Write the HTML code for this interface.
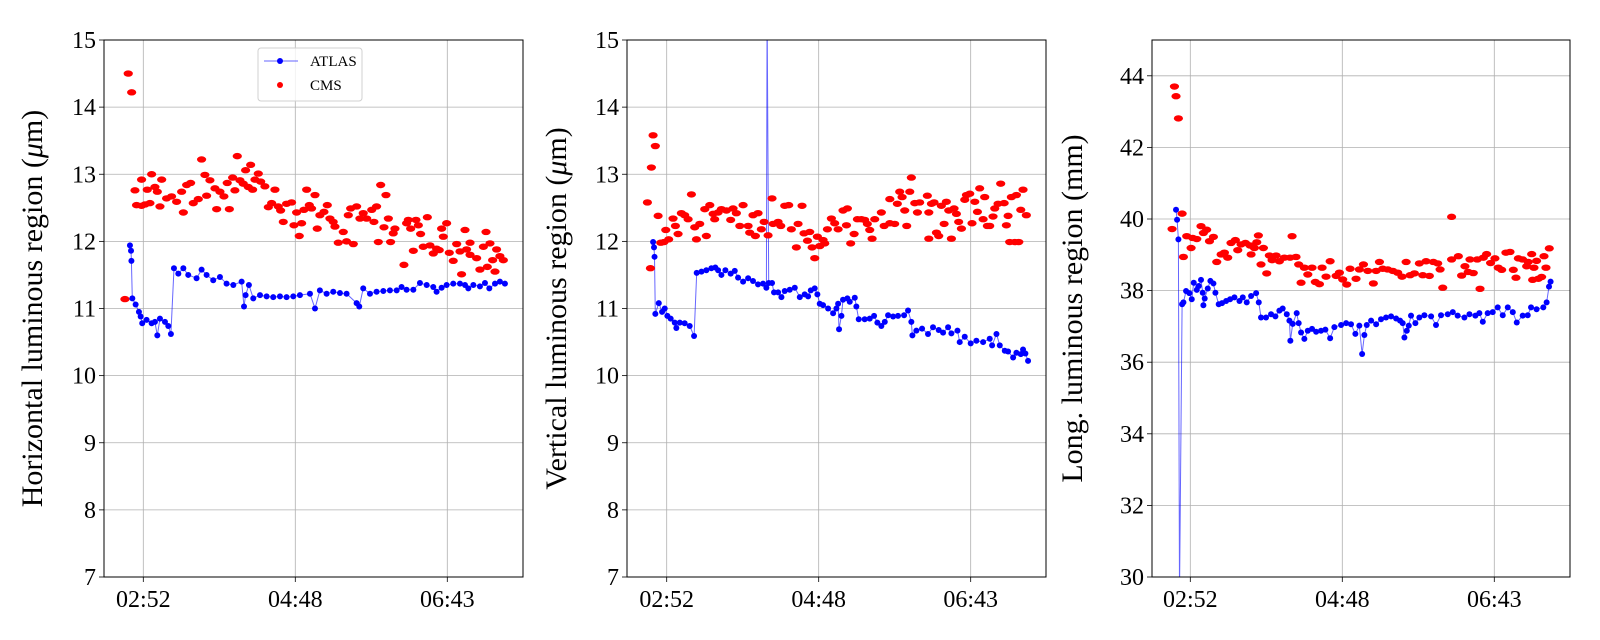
<!DOCTYPE html>
<html><head><meta charset="utf-8"><style>
html,body{margin:0;padding:0;background:#fff;width:1600px;height:640px;overflow:hidden;}
svg{display:block;font-family:"Liberation Serif","DejaVu Serif",serif;}
</style></head><body>
<svg id="fig" width="1600" height="640" viewBox="0 0 1600 640"></svg>
<script>
// ---- data (t = minutes since 02:52) ----
const xTickLabels = ["02:52","04:48","06:43"];
const xTickMinutes = [0,115,230];
const hTicks = [7,8,9,10,11,12,13,14,15];
const lTicks = [30,32,34,36,38,40,42,44];

const hAtlasT = [-10.1,-9.3,-9.0,-8.3,-5.8,-3.3,-2.0,-0.8,2.5,6.3,8.8,10.6,12.6,16.4,18.9,20.9,23.2,26.5,30.3,34.0,40.3,44.1,47.9,52.9,58.0,63.0,68.1,74.4,76.2,77.4,79.9,83.2,88.3,93.3,98.3,103.4,108.4,113.5,118.5,126.1,129.9,133.6,138.7,143.7,148.8,153.8,161.4,163.4,166.4,171.5,176.5,181.6,186.6,191.7,195.4,199.2,204.3,209.3,214.4,219.4,221.9,225.7,229.5,234.5,239.6,243.4,245.9,249.7,254.7,258.5,261.8,266.1,269.8,273.6];
const hAtlasV = [11.94,11.86,11.71,11.15,11.06,10.95,10.88,10.78,10.83,10.78,10.80,10.60,10.85,10.80,10.74,10.62,11.60,11.52,11.60,11.50,11.45,11.58,11.50,11.42,11.47,11.37,11.35,11.40,11.03,11.20,11.35,11.15,11.20,11.18,11.17,11.18,11.17,11.18,11.20,11.22,11.00,11.27,11.22,11.25,11.23,11.22,11.08,11.03,11.30,11.22,11.25,11.26,11.27,11.27,11.32,11.28,11.28,11.38,11.35,11.32,11.25,11.31,11.35,11.37,11.37,11.35,11.30,11.35,11.33,11.38,11.30,11.37,11.40,11.37];
const hCmsT = [-13.9,-11.4,-8.8,-6.3,-5.1,-1.3,-1.3,1.3,3.0,5.0,6.3,8.8,10.6,12.6,13.9,17.6,21.4,25.2,29.0,30.3,32.8,35.8,37.8,41.6,44.1,46.6,47.9,50.4,54.2,55.5,58.0,61.0,63.5,65.1,67.6,69.3,71.1,73.1,75.6,77.4,79.4,81.2,82.7,84.5,87.0,88.8,92.0,94.6,97.1,99.6,102.1,103.9,105.9,108.4,112.2,114.0,116.0,118.0,119.8,121.5,123.6,125.6,127.3,129.9,131.6,133.6,136.7,139.2,141.2,143.7,145.0,147.5,151.3,153.8,155.1,156.9,158.9,161.4,163.9,166.4,169.0,172.8,174.5,176.5,177.8,179.6,182.1,183.6,185.4,187.1,189.1,190.4,197.2,199.2,200.5,202.3,204.3,206.3,208.1,209.8,211.8,214.9,216.9,219.4,221.9,223.9,225.7,227.0,229.5,231.5,234.5,237.1,239.6,240.8,243.4,244.6,247.2,247.2,252.2,254.7,257.3,259.3,260.3,262.3,264.3,266.1,267.3,269.8,272.4];
const hCmsV = [11.14,14.50,14.22,12.76,12.54,12.53,12.92,12.55,12.77,12.57,13.00,12.81,12.74,12.52,12.92,12.64,12.67,12.59,12.74,12.43,12.84,12.87,12.57,12.63,13.22,12.99,12.68,12.91,12.79,12.48,12.74,12.67,12.87,12.48,12.95,12.76,13.27,12.91,12.86,13.06,12.81,13.14,12.77,12.92,13.01,12.89,12.82,12.51,12.57,12.77,12.52,12.46,12.29,12.56,12.58,12.24,12.43,12.08,12.27,12.47,12.77,12.54,12.49,12.69,12.19,12.39,12.44,12.54,12.34,12.29,12.22,11.98,12.14,12.00,12.39,12.49,11.96,12.52,12.34,12.42,12.34,12.47,12.29,12.52,11.99,12.84,12.21,12.69,12.34,11.99,12.12,12.19,11.65,12.27,12.32,12.19,11.86,12.32,12.24,12.11,11.92,12.36,11.94,11.82,11.89,11.87,12.19,12.07,12.27,11.83,11.71,11.96,11.85,11.51,12.17,11.88,11.98,11.80,11.75,11.58,11.92,12.14,11.62,11.97,11.72,11.55,11.88,11.78,11.72];

const vAtlasT = [-10.3,-9.6,-9.2,-8.6,-6.0,-3.5,-1.5,0.5,3.0,6.1,7.3,9.9,13.6,17.4,20.7,22.7,26.3,30.0,33.8,36.8,38.9,41.4,44.4,48.4,51.5,54.0,57.8,61.6,65.3,69.1,72.9,75.4,76.0,77.2,79.7,81.2,84.3,86.8,89.3,93.1,96.9,100.7,104.4,107.0,109.0,112.0,114.0,115.8,118.3,122.1,125.9,128.4,129.7,130.4,132.2,133.4,136.7,138.5,142.3,143.5,145.3,149.8,153.6,156.9,159.4,162.4,165.0,167.5,171.3,175.0,179.6,182.6,185.1,185.9,188.9,193.2,197.7,201.5,205.8,209.1,212.9,215.4,220.0,221.7,225.5,230.0,234.3,239.4,244.4,246.2,249.5,252.0,255.8,258.3,262.1,264.6,267.9,269.6,271.4,273.4];
const vAtlasV = [11.99,11.91,11.77,10.92,11.08,10.95,11.00,10.89,10.85,10.79,10.71,10.79,10.78,10.74,10.59,11.53,11.55,11.57,11.60,11.61,11.57,11.50,11.57,11.52,11.56,11.46,11.40,11.45,11.41,11.36,11.37,11.31,15.5,11.38,11.38,11.24,11.24,11.17,11.26,11.28,11.31,11.17,11.21,11.18,11.27,11.30,11.21,11.07,11.05,11.00,10.93,11.00,11.07,10.69,10.89,11.13,11.15,11.10,11.16,11.03,10.84,10.84,10.85,10.89,10.79,10.74,10.80,10.90,10.88,10.89,10.90,10.97,10.80,10.60,10.67,10.70,10.62,10.72,10.68,10.64,10.72,10.63,10.67,10.50,10.58,10.48,10.52,10.50,10.55,10.45,10.62,10.45,10.37,10.36,10.27,10.34,10.32,10.39,10.33,10.22];
const vCmsT = [-14.6,-12.3,-11.6,-10.3,-8.6,-6.5,-4.5,-2.0,-0.7,1.5,4.8,6.6,8.6,11.1,13.6,16.2,18.7,21.2,22.5,25.0,28.8,30.0,32.6,35.1,36.3,38.9,41.4,45.2,48.4,50.2,52.7,55.3,57.8,61.6,62.8,65.3,67.1,69.1,71.6,73.7,76.7,79.7,80.5,84.3,86.3,89.3,92.3,94.3,98.1,99.4,102.4,103.9,106.5,108.2,110.0,112.0,114.0,115.8,118.3,119.6,121.6,124.6,127.1,129.7,133.4,136.7,136.0,139.2,141.8,144.3,147.3,149.8,151.8,153.6,155.4,157.4,162.4,164.5,168.8,168.8,172.5,174.5,176.3,178.1,180.1,181.6,183.9,185.1,187.7,189.7,191.4,197.2,198.3,198.3,200.3,202.3,204.1,205.8,207.8,209.9,211.6,213.4,215.4,217.4,219.2,220.9,223.0,225.5,226.8,229.3,231.0,233.1,235.1,236.8,239.4,240.6,242.6,244.4,246.9,248.2,250.7,252.7,255.3,257.0,258.3,259.5,260.8,263.3,264.6,266.4,267.9,269.6,272.1];
const vCmsV = [12.58,11.60,13.10,13.58,13.42,12.38,11.98,11.99,12.17,12.03,12.34,12.23,12.11,12.42,12.39,12.33,12.70,12.21,12.03,12.26,12.48,12.08,12.54,12.41,12.33,12.43,12.48,12.46,12.32,12.49,12.42,12.23,12.54,12.23,12.13,12.39,12.08,12.42,12.18,12.29,12.09,12.64,12.26,12.29,12.23,12.53,12.54,12.18,11.91,12.26,12.53,12.12,12.01,12.14,11.91,11.75,12.07,11.93,12.02,11.97,12.18,12.34,12.27,12.18,12.46,12.49,12.24,11.97,12.11,12.33,12.33,12.32,12.26,12.17,12.04,12.33,12.43,12.23,12.63,12.27,12.26,12.56,12.74,12.66,12.46,12.23,12.74,12.95,12.57,12.43,12.58,12.68,12.43,12.04,12.56,12.58,12.13,12.08,12.53,12.26,12.59,12.46,12.04,12.49,12.41,12.29,12.19,12.62,12.69,12.71,12.27,12.59,12.44,12.79,12.33,12.66,12.23,12.23,12.37,12.49,12.56,12.86,12.57,12.24,12.38,11.99,12.66,11.99,12.69,11.99,12.47,12.77,12.39];

const lAtlasT = [-10.8,-10.0,-9.0,-8.2,-6.2,-5.2,-3.2,-0.7,1.1,2.6,4.9,6.4,8.1,9.4,9.9,10.9,13.2,15.2,17.5,19.0,21.5,24.0,27.1,30.1,33.4,37.2,39.7,42.7,46.0,49.8,51.8,53.5,57.3,61.1,64.4,67.4,69.9,73.0,75.0,75.7,77.5,80.5,82.0,83.8,86.3,88.9,92.1,95.2,98.9,102.2,105.8,109.0,114.1,117.9,121.6,124.9,127.9,130.0,131.7,133.5,136.8,140.6,144.3,148.1,151.9,155.7,158.7,160.7,162.0,163.8,165.3,167.0,170.3,173.3,177.1,182.2,185.9,189.7,194.8,198.6,202.3,207.4,211.2,215.7,218.7,221.3,225.0,228.8,232.6,236.4,240.2,244.0,247.0,251.5,255.3,257.8,262.0,267.1,269.6,271.4,272.6];
const lAtlasV = [40.26,39.98,39.43,29.5,37.62,37.67,37.99,37.93,37.76,38.22,38.02,38.13,38.30,37.94,37.59,37.78,38.06,38.27,38.20,37.94,37.62,37.65,37.71,37.76,37.81,37.71,37.81,37.67,37.85,37.93,37.67,37.25,37.25,37.34,37.28,37.44,37.50,37.34,37.16,36.60,37.07,37.37,37.09,36.83,36.65,36.88,36.93,36.85,36.88,36.91,36.67,36.98,37.04,37.09,37.06,36.79,37.02,36.23,36.76,37.04,37.16,37.06,37.20,37.25,37.28,37.22,37.16,37.09,36.69,36.88,37.02,37.30,37.09,37.25,37.31,37.28,37.04,37.31,37.34,37.40,37.30,37.25,37.34,37.30,37.37,37.13,37.37,37.40,37.53,37.31,37.53,37.40,37.11,37.30,37.31,37.53,37.48,37.53,37.67,38.11,38.25];
const lCmsT = [-13.8,-12.0,-10.8,-9.0,-6.2,-5.2,-2.7,0.6,1.8,4.9,8.1,9.9,12.4,14.5,17.5,20.0,23.3,25.8,28.3,30.8,34.1,35.9,38.4,41.7,45.2,46.0,48.5,50.3,51.5,53.5,55.3,57.8,59.8,61.9,64.9,67.4,71.2,75.5,77.0,80.0,82.0,83.8,86.3,88.9,92.1,94.6,97.7,99.7,102.7,105.8,110.3,112.8,115.3,118.4,120.9,125.4,127.9,131.0,134.3,138.5,140.6,143.1,145.6,149.4,153.2,156.9,160.2,163.3,166.3,169.6,173.3,175.9,178.4,180.9,183.9,187.2,189.0,191.0,197.7,197.7,202.8,205.3,207.8,210.3,211.6,214.1,217.1,219.2,221.7,224.2,227.2,230.5,233.0,235.6,238.8,241.9,244.4,246.4,248.2,251.4,254.5,255.7,258.3,259.0,260.0,262.0,263.3,265.8,267.6,269.1,271.6];
const lCmsV = [39.72,43.70,43.43,42.81,40.15,38.94,39.52,39.19,39.47,39.44,39.80,39.61,39.70,39.38,39.50,38.80,39.01,39.06,38.92,39.33,39.41,39.13,39.29,39.33,39.26,39.01,39.19,39.35,39.54,38.73,39.19,38.48,38.98,38.85,38.98,38.82,38.92,38.92,39.52,38.94,38.73,38.22,38.64,38.45,38.64,38.24,38.18,38.64,38.39,38.82,38.41,38.50,38.31,38.17,38.61,38.33,38.59,38.73,38.55,38.20,38.55,38.80,38.61,38.59,38.55,38.50,38.39,38.80,38.43,38.48,38.76,38.43,38.82,38.41,38.80,38.76,38.59,38.08,40.06,38.87,38.96,38.42,38.68,38.52,38.87,38.49,38.87,38.05,38.92,39.02,38.77,38.90,38.64,38.58,39.06,39.08,38.58,38.36,38.90,38.87,38.68,38.80,39.02,38.30,38.64,38.83,38.33,38.38,38.96,38.64,39.18];

// ---- drawing ----
const NS="http://www.w3.org/2000/svg";
const svg=document.getElementById('fig');
function mk(tag,attrs,parent){const e=document.createElementNS(NS,tag);for(const k in attrs)e.setAttribute(k,attrs[k]);(parent||svg).appendChild(e);return e;}

const panels=[
 {key:'horizontal',left:104,right:523,t0:143.3,ymin:7,ymax:15,ticks:hTicks,aT:hAtlasT,aV:hAtlasV,cT:hCmsT,cV:hCmsV,title:'Horizontal luminous region (',unit:'μm',tx:42,legend:true},
 {key:'vertical',left:627,right:1046,t0:666.7,ymin:7,ymax:15,ticks:hTicks,aT:vAtlasT,aV:vAtlasV,cT:vCmsT,cV:vCmsV,title:'Vertical luminous region (',unit:'μm',tx:566,legend:false},
 {key:'longitudinal',left:1152,right:1570,t0:1190.3,ymin:30,ymax:45,ticks:lTicks,aT:lAtlasT,aV:lAtlasV,cT:lCmsT,cV:lCmsV,title:'Long. luminous region (mm)',unit:null,tx:1082,legend:false}
];
const TOP=40,BOT=577,PXMIN=1.3217;

panels.forEach((p,pi)=>{
 const g=mk('g',{});
 
 
 const xs=t=>p.t0+t*PXMIN;
 const ys=v=>BOT-(v-p.ymin)/(p.ymax-p.ymin)*(BOT-TOP);
 const clipId='clip'+pi;
 const cp=mk('clipPath',{id:clipId},g);mk('rect',{x:p.left,y:TOP,width:p.right-p.left,height:BOT-TOP},cp);
 const grid=mk('g',{},g);
 
 
 p.ticks.forEach(v=>{const y=ys(v);mk('line',{x1:p.left,x2:p.right,y1:y,y2:y,stroke:'#b0b0b0','stroke-width':0.8},grid);});
 xTickMinutes.forEach(t=>{const x=xs(t);mk('line',{x1:x,x2:x,y1:TOP,y2:BOT,stroke:'#b0b0b0','stroke-width':0.8},grid);});
 p.ticks.forEach(v=>{const y=ys(v);mk('line',{x1:p.left-5,x2:p.left,y1:y,y2:y,stroke:'#000','stroke-width':0.8},g);
  const t=mk('text',{x:p.left-8,y:y+8,'text-anchor':'end','font-size':24,fill:'#000'},g);t.textContent=v;
  
  });
 xTickMinutes.forEach((m,i)=>{const x=xs(m);mk('line',{x1:x,x2:x,y1:BOT,y2:BOT+5,stroke:'#000','stroke-width':0.8},g);
  const t=mk('text',{x:x,y:BOT+30,'text-anchor':'middle','font-size':24,fill:'#000'},g);t.textContent=xTickLabels[i];
  
  });
 const yt=mk('text',{x:p.tx,y:(TOP+BOT)/2,'text-anchor':'middle','font-size':30,fill:'#000',transform:`rotate(-90 ${p.tx} ${(TOP+BOT)/2})`},g);
 
 
 if(p.unit){yt.appendChild(document.createTextNode(p.title));const ts=mk('tspan',{'font-style':'italic'},yt);ts.textContent='μ';yt.appendChild(document.createTextNode('m)'));}
 else yt.textContent=p.title;
 const data=mk('g',{'clip-path':`url(#${clipId})`},g);
 let d='';p.aT.forEach((t,i)=>{d+=(i?'L':'M')+xs(t).toFixed(1)+' '+ys(p.aV[i]).toFixed(1);});
 const line=mk('path',{d:d,fill:'none',stroke:'#0000ff','stroke-opacity':0.6,'stroke-width':1},data);
 
 
 p.cT.forEach((t,i)=>{const x=xs(t),y=ys(p.cV[i]);
  const c=mk('ellipse',{cx:x,cy:y,rx:4.6,ry:3.2,fill:'#ff0000'},data);
  
  });
 p.aT.forEach((t,i)=>{const c=mk('circle',{cx:xs(t),cy:ys(p.aV[i]),r:3,fill:'#0000ff'},data);
  
  });
 const fr=mk('rect',{x:p.left,y:TOP,width:p.right-p.left,height:BOT-TOP,fill:'none',stroke:'#000','stroke-width':1},g);
 
 
 if(p.legend){
  const lg=mk('g',{},g);
  
  
  mk('rect',{x:258,y:48,width:104,height:53,rx:3,fill:'#fff','fill-opacity':0.8,stroke:'#d0d0d0','stroke-width':1},lg);
  mk('line',{x1:264,x2:298,y1:61,y2:61,stroke:'#0000ff','stroke-opacity':0.6,'stroke-width':1},lg);
  mk('circle',{cx:280,cy:61,r:3,fill:'#0000ff'},lg);
  const t1=mk('text',{x:310,y:66,'font-size':15,fill:'#000'},lg);t1.textContent='ATLAS';
  
  
  mk('circle',{cx:280,cy:85,r:3,fill:'#ff0000'},lg);
  const t2=mk('text',{x:310,y:90,'font-size':15,fill:'#000'},lg);t2.textContent='CMS';
  
  
 }
});
</script>
</body></html>
